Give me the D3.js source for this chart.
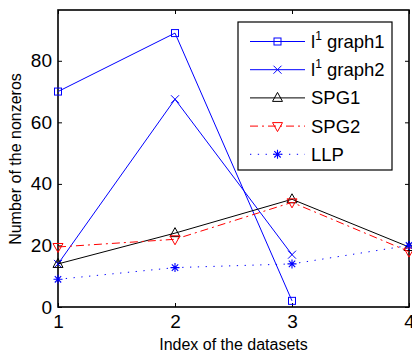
<!DOCTYPE html>
<html>
<head>
<meta charset="utf-8">
<script src="https://cdn.jsdelivr.net/npm/d3@7"></script>
<style>
  html, body { margin: 0; padding: 0; background: #fff; }
  svg { display: block; }
</style>
</head>
<body>
<div id="chart"></div>
<script>
// data
const datasets = [1, 2, 3, 4];
const l1graph1 = [70, 89, 2];
const l1graph2 = [14, 67.5, 17];
const spg1 = [14, 24, 35, 19.5];
const spg2 = [19.5, 22, 34, 18];
const llp = [9, 12.8, 14, 20];
const yTicks = [0, 20, 40, 60, 80];

const series = [
  { name: "l", sup: "1", tail: " graph1", values: l1graph1, color: "#0000ff", dash: null, marker: "square" },
  { name: "l", sup: "1", tail: " graph2", values: l1graph2, color: "#0000ff", dash: null, marker: "x" },
  { name: "SPG1", values: spg1, color: "#000000", dash: null, marker: "tri" },
  { name: "SPG2", values: spg2, color: "#ff0000", dash: "8,4,2,4", marker: "tridown" },
  { name: "LLP", values: llp, color: "#0000ff", dash: "1.3,6.5", marker: "star" }
];

const totalW = 412, totalH = 356;
const margin = { top: 10, right: 3, bottom: 49, left: 58 };
const W = totalW - margin.left - margin.right;
const H = totalH - margin.top - margin.bottom;
const FONT = "'Liberation Sans', Arial, Helvetica, sans-serif";

const svg = d3.select("#chart").append("svg")
  .attr("width", totalW).attr("height", totalH);
const g = svg.append("g").attr("transform", `translate(${margin.left},${margin.top})`);

const x = d3.scaleLinear().domain([1, 4]).range([0, W]);
const y = d3.scaleLinear().domain([0, 96.5]).range([H, 0]);

// axes box with inward ticks
const TICK = sel => sel
  .call(a => a.select(".domain").remove())
  .call(a => a.selectAll("line").attr("stroke", "#000").attr("stroke-width", 1))
  .call(a => a.selectAll("text").attr("fill", "#000")
    .style("font-family", FONT).style("font-size", "19px"));

g.append("g").attr("transform", `translate(0,${H})`)
  .call(d3.axisBottom(x).tickValues(datasets).tickFormat(d3.format("d")).tickSizeInner(-4).tickSizeOuter(0).tickPadding(8))
  .call(TICK);
g.append("g")
  .call(d3.axisTop(x).tickValues(datasets).tickFormat("").tickSizeInner(-4).tickSizeOuter(0))
  .call(TICK);
g.append("g")
  .call(d3.axisLeft(y).tickValues(yTicks).tickSizeInner(-4).tickSizeOuter(0).tickPadding(6))
  .call(TICK);
g.append("g").attr("transform", `translate(${W},0)`)
  .call(d3.axisRight(y).tickValues(yTicks).tickFormat("").tickSizeInner(-4).tickSizeOuter(0))
  .call(TICK);

g.append("rect").attr("x", 0).attr("y", 0).attr("width", W).attr("height", H)
  .attr("fill", "none").attr("stroke", "#000").attr("stroke-width", 1.6);

// axis titles
g.append("text").attr("x", W / 2).attr("y", H + 43)
  .attr("text-anchor", "middle").attr("fill", "#000")
  .style("font-family", FONT).style("font-size", "16px")
  .text("Index of the datasets");
g.append("text").attr("transform", "rotate(-90)")
  .attr("x", -(159 - margin.top)).attr("y", -37)
  .attr("text-anchor", "middle").attr("fill", "#000")
  .style("font-family", FONT).style("font-size", "16px")
  .text("Number of the nonzeros");

function drawMarker(sel, type, color) {
  if (type === "square") {
    sel.append("rect").attr("x", -3.5).attr("y", -3.5).attr("width", 7).attr("height", 7)
      .attr("fill", "none").attr("stroke", color).attr("stroke-width", 1);
  } else if (type === "x") {
    sel.append("path").attr("d", "M-4,-4L4,4M-4,4L4,-4")
      .attr("stroke", color).attr("stroke-width", 1);
  } else if (type === "tri") {
    sel.append("path").attr("d", "M0,-5.5L5,3.5L-5,3.5Z")
      .attr("fill", "none").attr("stroke", color).attr("stroke-width", 1);
  } else if (type === "tridown") {
    sel.append("path").attr("d", "M0,5.5L5,-3.5L-5,-3.5Z")
      .attr("fill", "none").attr("stroke", color).attr("stroke-width", 1);
  } else if (type === "star") {
    sel.append("path").attr("d", "M-4.5,0L4.5,0M0,-4.5L0,4.5M-3.2,-3.2L3.2,3.2M-3.2,3.2L3.2,-3.2")
      .attr("stroke", color).attr("stroke-width", 1.1);
  }
}

const line = d3.line().x((d, i) => x(datasets[i])).y(d => y(d));

series.forEach(s => {
  g.append("path").datum(s.values)
    .attr("d", line).attr("fill", "none")
    .attr("stroke", s.color).attr("stroke-width", 1)
    .attr("stroke-dasharray", s.dash);
  s.values.forEach((v, i) => {
    const m = g.append("g").attr("transform", `translate(${x(datasets[i])},${y(v)})`);
    drawMarker(m, s.marker, s.color);
  });
});

// legend
const lg = svg.append("g").attr("transform", "translate(238,22)");
lg.append("rect").attr("x", 0).attr("y", 0).attr("width", 154).attr("height", 148)
  .attr("fill", "#fff").attr("stroke", "#000").attr("stroke-width", 1.2);
series.forEach((s, i) => {
  const cy = 19.5 + i * 28.2;
  lg.append("line").attr("x1", 12).attr("x2", 67).attr("y1", cy).attr("y2", cy)
    .attr("stroke", s.color).attr("stroke-width", 1).attr("stroke-dasharray", s.dash);
  const m = lg.append("g").attr("transform", `translate(39.5,${cy})`);
  drawMarker(m, s.marker, s.color);
  const t = lg.append("text").attr("x", 73).attr("y", cy + 6.5)
    .attr("fill", "#000").style("font-family", FONT).style("font-size", "18.5px");
  if (s.sup) {
    t.append("tspan").text(s.name);
    t.append("tspan").attr("dy", -8).style("font-size", "12px").text(s.sup);
    t.append("tspan").attr("dy", 8).text(s.tail);
  } else {
    t.text(s.name);
  }
});
</script>
</body>
</html>
